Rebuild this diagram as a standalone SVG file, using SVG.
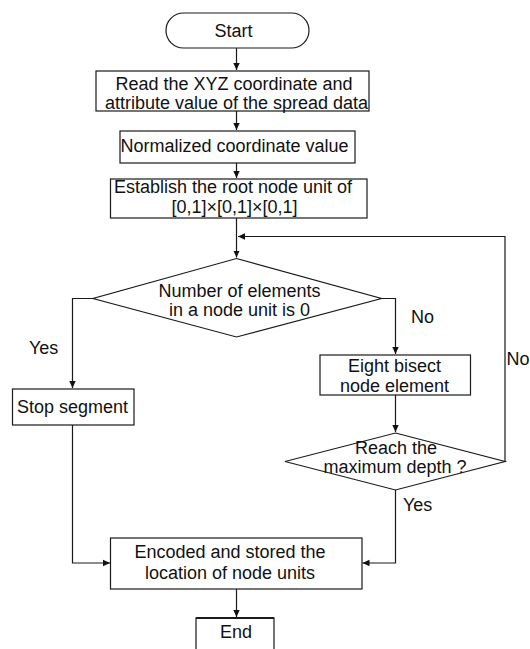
<svg xmlns="http://www.w3.org/2000/svg" width="530" height="649" viewBox="0 0 530 649">
<defs>
<marker id="ah" markerWidth="8" markerHeight="8" refX="7" refY="4" orient="auto" markerUnits="userSpaceOnUse">
<path d="M0,0.8 L7,4 L0,7.2 Z" fill="#111"/>
</marker>
<style>
.n{fill:#fff;stroke:#1a1a1a;stroke-width:1.2}
.t{font-family:"Liberation Sans",Arial,sans-serif;font-size:18px;fill:#111;text-anchor:middle}
.l{font-family:"Liberation Sans",Arial,sans-serif;font-size:18px;fill:#111}
.c{fill:none;stroke:#1a1a1a;stroke-width:1.2}
</style>
</defs>
<rect width="530" height="649" fill="#fff"/>
<g id="connectors">
<path class="c" d="M236.5,48 V70" marker-end="url(#ah)"/>
<path class="c" d="M236.5,111 V130" marker-end="url(#ah)"/>
<path class="c" d="M236.5,163 V178" marker-end="url(#ah)"/>
<path class="c" d="M236.5,218 V257.5" marker-end="url(#ah)"/>
<path class="c" d="M93,298.5 H72.5 V388" marker-end="url(#ah)"/>
<path class="c" d="M381.5,298.5 H395.5 V354" marker-end="url(#ah)"/>
<path class="c" d="M395.5,395 V432" marker-end="url(#ah)"/>
<path class="c" d="M505,461.5 V236.5 H238" marker-end="url(#ah)"/>
<path class="c" d="M395.5,490 V563 H362.5" marker-end="url(#ah)"/>
<path class="c" d="M72.5,425 V563 H110" marker-end="url(#ah)"/>
<path class="c" d="M236.5,589 V617" marker-end="url(#ah)"/>
</g>
<g id="start">
<rect class="n" x="166" y="13" width="143" height="35" rx="17.5"/>
<text class="t" x="233.5" y="36.5">Start</text>
</g>
<g id="read">
<rect class="n" x="96" y="71" width="273" height="40"/>
<text class="t" x="234" y="90">Read the XYZ coordinate and</text>
<text class="t" x="236.5" y="109">attribute value of the spread data</text>
</g>
<g id="normalize">
<rect class="n" x="120" y="131" width="235" height="32"/>
<text class="t" x="234.5" y="152">Normalized coordinate value</text>
</g>
<g id="establish">
<rect class="n" x="110.5" y="179" width="256.5" height="39"/>
<text class="t" x="233" y="193">Establish the root node unit of</text>
<text class="t" x="234.5" y="213">[0,1]×[0,1]×[0,1]</text>
</g>
<g id="decision1">
<polygon class="n" points="236.5,258.5 381.5,298.5 236.5,337 93,298.5"/>
<text class="t" x="239.5" y="296.5">Number of elements</text>
<text class="t" x="239.5" y="316">in a node unit is 0</text>
</g>
<g id="stop">
<rect class="n" x="12.5" y="389" width="121.5" height="36"/>
<text class="t" x="72.5" y="413">Stop segment</text>
</g>
<g id="bisect">
<rect class="n" x="320" y="355" width="150.5" height="40"/>
<text class="t" x="394.5" y="371.5">Eight bisect</text>
<text class="t" x="394.5" y="391.5">node element</text>
</g>
<g id="decision2">
<polygon class="n" points="395.5,433 505,461.5 395.5,490 285,461.5"/>
<text class="t" x="396" y="454">Reach the</text>
<text class="t" x="395" y="473">maximum depth ?</text>
</g>
<g id="encode">
<rect class="n" x="110.5" y="538" width="251.5" height="51"/>
<text class="t" x="230" y="558">Encoded and stored the</text>
<text class="t" x="230" y="579">location of node units</text>
</g>
<g id="end">
<rect class="n" x="196" y="618" width="78" height="45"/>
<line x1="196" y1="618" x2="274" y2="618" stroke="#1a1a1a" stroke-width="2.2"/>
<text class="t" x="236" y="638">End</text>
</g>
<g id="labels">
<text class="l" x="29" y="354">Yes</text>
<text class="l" x="411" y="323">No</text>
<text class="l" x="506.5" y="365">No</text>
<text class="l" x="403" y="510.5">Yes</text>
</g>
</svg>
